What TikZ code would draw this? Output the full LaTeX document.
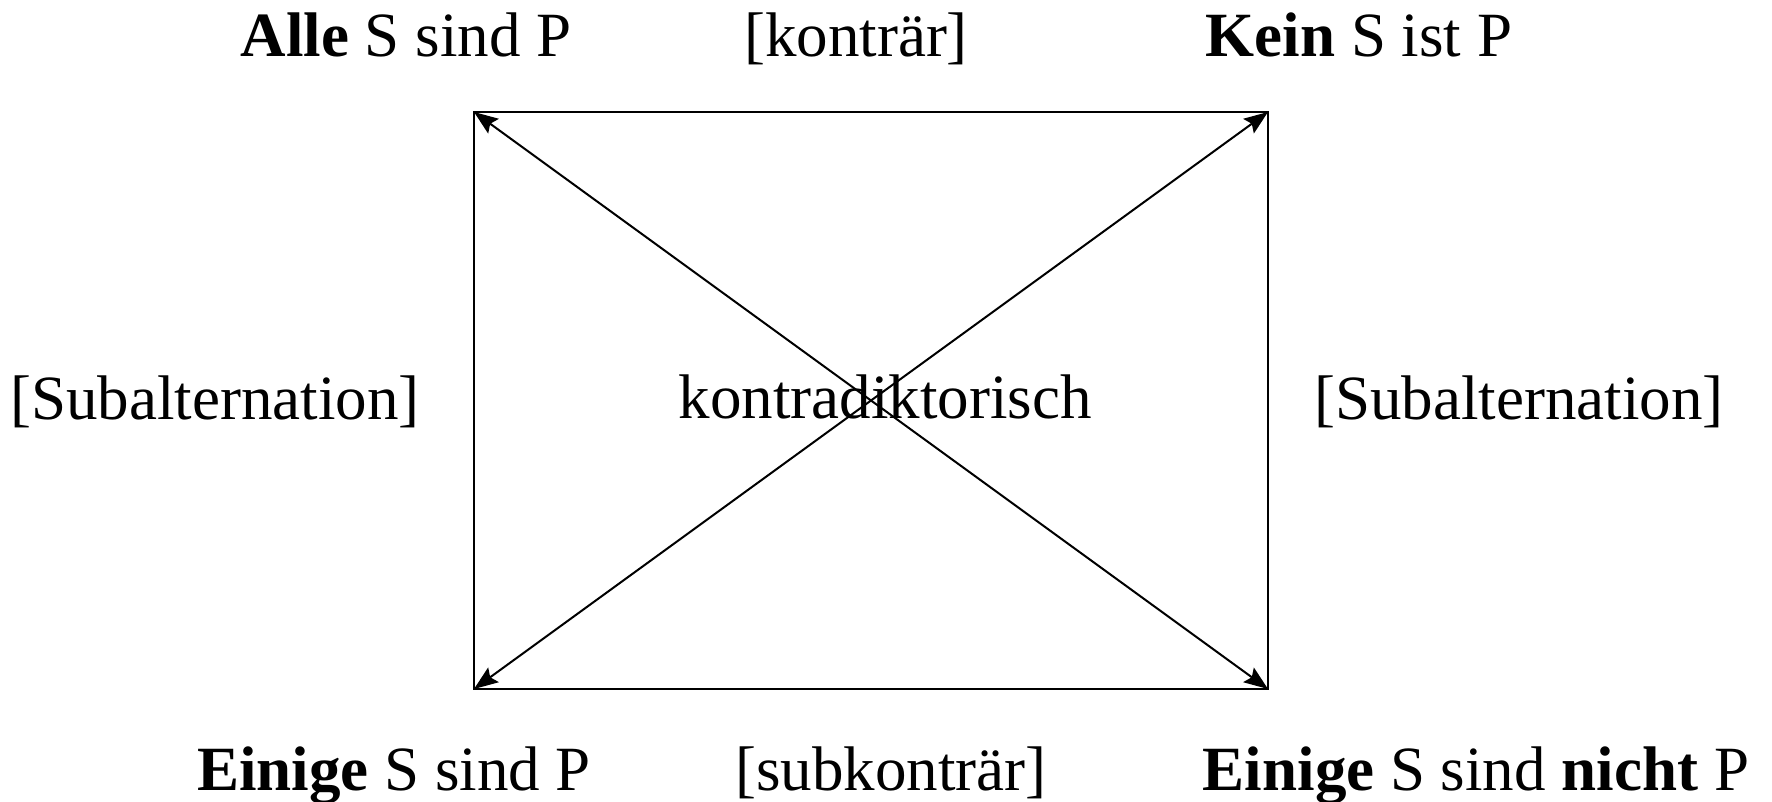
\documentclass[tikz,border=0pt]{standalone}
\usepackage{fontspec}
\setmainfont{Liberation Serif}
\usetikzlibrary{arrows.meta}
\begin{document}
\begin{tikzpicture}[x=0.5pt,y=-0.5pt,
  lbl/.style={anchor=base,inner sep=0pt,font=\fontsize{31.5}{36}\selectfont},
  edge/.style={line width=1pt},
  diag/.style={line width=1pt,{Stealth[length=12pt,width=9pt,inset=2pt]}-{Stealth[length=12pt,width=9pt,inset=2pt]}}]
\useasboundingbox (0,0) rectangle (1772,802);
\coordinate (tl) at (474,112);
\coordinate (tr) at (1268,112);
\coordinate (bl) at (474,689);
\coordinate (br) at (1268,689);
\draw[edge] (tl) -- (tr) -- (br) -- (bl) -- cycle;
\draw[diag] (tl) -- (br);
\draw[diag] (bl) -- (tr);
\node[lbl] (a) at (406,57) {\textbf{Alle} S sind P};
\node[lbl] (k) at (856,57) {[konträr]};
\node[lbl] (e) at (1359,57) {\textbf{Kein} S ist P};
\node[lbl] (sl) at (215,419) {[Subalternation]};
\node[lbl] (kd) at (885,418) {kontradiktorisch};
\node[lbl] (sr) at (1519,419) {[Subalternation]};
\node[lbl] (i) at (394,790) {\textbf{Einige} S sind P};
\node[lbl] (sk) at (891,790) {[subkonträr]};
\node[lbl] (o) at (1476,790) {\textbf{Einige} S sind \textbf{nicht} P};
\end{tikzpicture}
\end{document}
